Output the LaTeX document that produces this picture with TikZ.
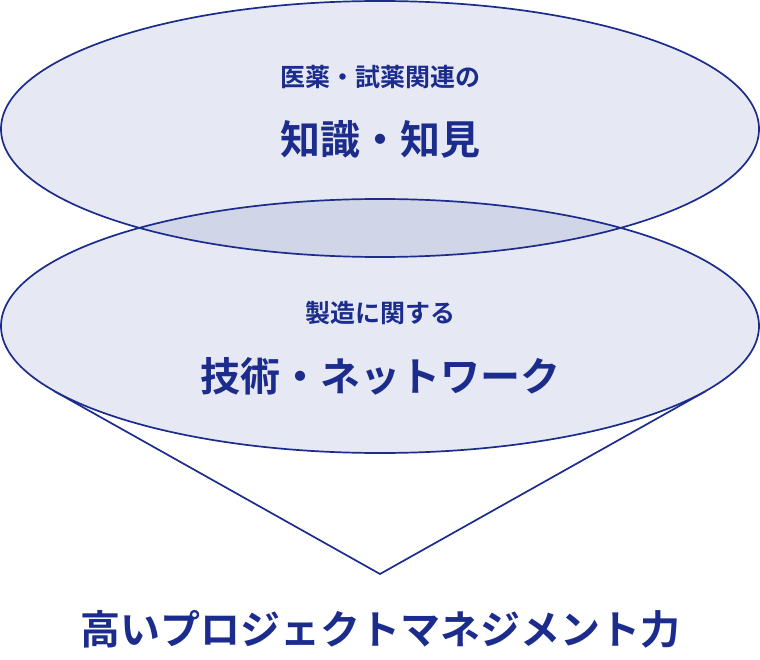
\documentclass[tikz,border=0pt]{standalone}
\usepackage{fontspec}
\newfontfamily\jpb{Noto Sans CJK JP Bold}
\definecolor{navy}{HTML}{1B2C8C}
\definecolor{lightfill}{HTML}{E6E9F3}
\definecolor{overlapfill}{HTML}{D0D5E8}
\tikzset{
  outline/.style={draw=navy, line width=1.7pt},
  small/.style={text=navy, font=\jpb\fontsize{25}{29}\selectfont, inner sep=0pt},
  big/.style={text=navy, font=\jpb\fontsize{40}{47}\selectfont, inner sep=0pt},
}
\begin{document}
\begin{tikzpicture}[x=1pt,y=-1pt]
\useasboundingbox (0,0) rectangle (760,660);
% funnel
\coordinate (apex) at (380,574);
\coordinate (tl) at (54,391);
\coordinate (tr) at (706,391);
\draw[outline] (tl) -- (apex) -- (tr);
% fills
\fill[lightfill] (380,129) ellipse [x radius=379, y radius=128];
\fill[lightfill] (380,326) ellipse [x radius=379, y radius=127];
\begin{scope}
  \clip (380,129) ellipse [x radius=379, y radius=128];
  \fill[overlapfill] (380,326) ellipse [x radius=379, y radius=127];
\end{scope}
% outlines
\draw[outline] (380,129) ellipse [x radius=379, y radius=128];
\draw[outline] (380,326) ellipse [x radius=379, y radius=127];
% texts
\node[small] (t1) at (380,77) {医薬・試薬関連の};
\node[big] (t2) at (380,139) {知識・知見};
\node[small] (b1) at (380,313) {製造に関する};
\node[big] (b2) at (380,376) {技術・ネットワーク};
\node[big] (res) at (380,629) {高いプロジェクトマネジメント力};
\end{tikzpicture}
\end{document}
